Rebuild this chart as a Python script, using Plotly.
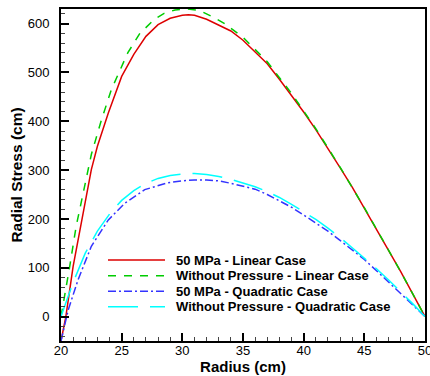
import plotly.graph_objects as go

# Radius (cm)
r_lin50 = [20, 20.4, 21.0, 21.7, 22.5, 23.0, 23.9, 25.0, 26.0, 27.0, 28.0, 29.0, 30.0, 30.5, 31.0, 32.0,
           33.0, 34.0, 35.0, 36.0, 37.0, 38.0, 39.0, 40.0, 41.0, 42.0, 43.0, 44.0, 45.0, 46.0, 47.0,
           48.0, 49.0, 50.0]
s_lin50 = [-50, 0, 103, 198, 301, 349, 417, 492, 537, 574, 598, 611, 617, 618, 617, 609,
           597, 585, 566, 542, 518, 486, 453, 419, 383, 345, 305, 265, 222, 180, 136,
           92, 46, 0]

r_lin0 = [20, 20.3, 20.7, 21.25, 21.8, 22.5, 23.3, 24.15, 25.5, 26.5, 27.7, 28.5, 29.4, 30.4, 31.4,
          32.5, 33.5, 35.0, 37.0, 39.0, 41.0, 43.0, 45.0, 47.0, 48.0, 49.0, 50.0]
s_lin0 = [0, 42, 100, 185, 250, 332, 400, 465, 540, 580, 609, 621, 628, 630, 627,
          614, 600, 572, 522, 457, 385, 306, 223, 137, 92, 46, 0]

r_quad50 = [20, 20.3, 20.6, 21.4, 22.5, 23.9, 25.25, 26.9, 28.8, 30.0, 31.0, 32.0, 33.0, 34.0, 35.0,
            36.0, 37.0, 38.0, 39.0, 40.0, 41.0, 42.0, 43.0, 44.0, 45.0, 46.0, 47.0, 48.0, 49.0, 50.0]
s_quad50 = [-50, -20, 14, 75, 144, 198, 232, 260, 274, 278, 280, 280, 278, 273, 267,
            261, 250, 237, 224, 208, 192, 175, 156, 137, 117, 94, 71, 48, 24, 0]

r_quad0 = [20, 21, 22, 23, 24, 25, 26, 27, 28, 29, 30, 31, 32, 33, 34, 35, 36, 37, 38, 39, 40,
           41, 42, 43, 44, 45, 46, 47, 48, 49, 50]
s_quad0 = [0, 70, 130, 175, 210, 238, 258, 273, 283, 289, 292, 293, 291, 287, 281, 274, 266,
           256, 244, 230, 215, 199, 181, 162, 141, 120, 98, 75, 51, 26, 0]

names = ["50 MPa - Linear Case", "Without Pressure - Linear Case",
         "50 MPa - Quadratic Case", "Without Pressure - Quadratic Case"]

y_ticks = [0, 100, 200, 300, 400, 500, 600]
x_ticks = [20, 25, 30, 35, 40, 45, 50]

FONT = "Arial, Liberation Sans, sans-serif"
series = [(r_lin50, s_lin50), (r_lin0, s_lin0), (r_quad50, s_quad50), (r_quad0, s_quad0)]
styles = [dict(color="#dd0000", width=1.5, dash="solid"),
          dict(color="#00cc00", width=1.5, dash="8px,8px"),
          dict(color="#3333ff", width=1.5, dash="8px,3px,2px,3px"),
          dict(color="#00ffff", width=1.5, dash="30px,12px")]

fig = go.Figure()
for (rx, sy), nm, st in zip(series, names, styles):
    fig.add_trace(go.Scatter(x=rx, y=sy, mode="lines", name=nm, line=st, showlegend=False))

# Manual legend (inside plot area), positions in paper coordinates
PLOT_L, PLOT_W, PLOT_B, PLOT_H = 61, 364, 341, 332
row_px = [260, 275.7, 291.3, 306.7]
for py, nm, st in zip(row_px, names, styles):
    yp = (PLOT_B - py) / PLOT_H
    fig.add_shape(type="line", xref="paper", yref="paper",
                  x0=(108 - PLOT_L) / PLOT_W, x1=(165 - PLOT_L) / PLOT_W, y0=yp, y1=yp,
                  line=dict(color=st["color"], width=st["width"], dash=st["dash"]))
    fig.add_annotation(xref="paper", yref="paper", x=(174 - PLOT_L) / PLOT_W, y=yp,
                       xanchor="left", yanchor="middle", showarrow=False,
                       text="<b>" + nm + "</b>",
                       font=dict(family=FONT, size=13, color="black"))

axis_common = dict(showgrid=False, zeroline=False, showline=True, linecolor="black",
                   linewidth=2, mirror=True, ticks="inside", ticklen=8, tickwidth=1.5,
                   tickcolor="black", automargin=False, ticklabeloverflow="allow",
                   tickfont=dict(family=FONT, size=13, color="black"))

fig.update_xaxes(range=[20, 50], tickvals=x_ticks,
                 minor=dict(dtick=1, ticks="inside", ticklen=4, tickwidth=1, tickcolor="#444"),
                 ticklabelstandoff=-4,
                 title=dict(text="<b>Radius (cm)</b>", standoff=2,
                            font=dict(family=FONT, size=15, color="black")),
                 **axis_common)
fig.update_yaxes(range=[-50, 630], tickvals=y_ticks,
                 minor=dict(dtick=20, ticks="inside", ticklen=4, tickwidth=1, tickcolor="#444"),
                 ticklabelstandoff=7,
                 title=dict(text="<b>Radial Stress (cm)</b>", standoff=1,
                            font=dict(family=FONT, size=15.5, color="black")),
                 **axis_common)

fig.update_layout(
    width=430, height=376,
    margin=dict(l=61, r=5, t=9, b=35),
    paper_bgcolor="white", plot_bgcolor="white",
    showlegend=False,
)

fig.write_html("out.html")
